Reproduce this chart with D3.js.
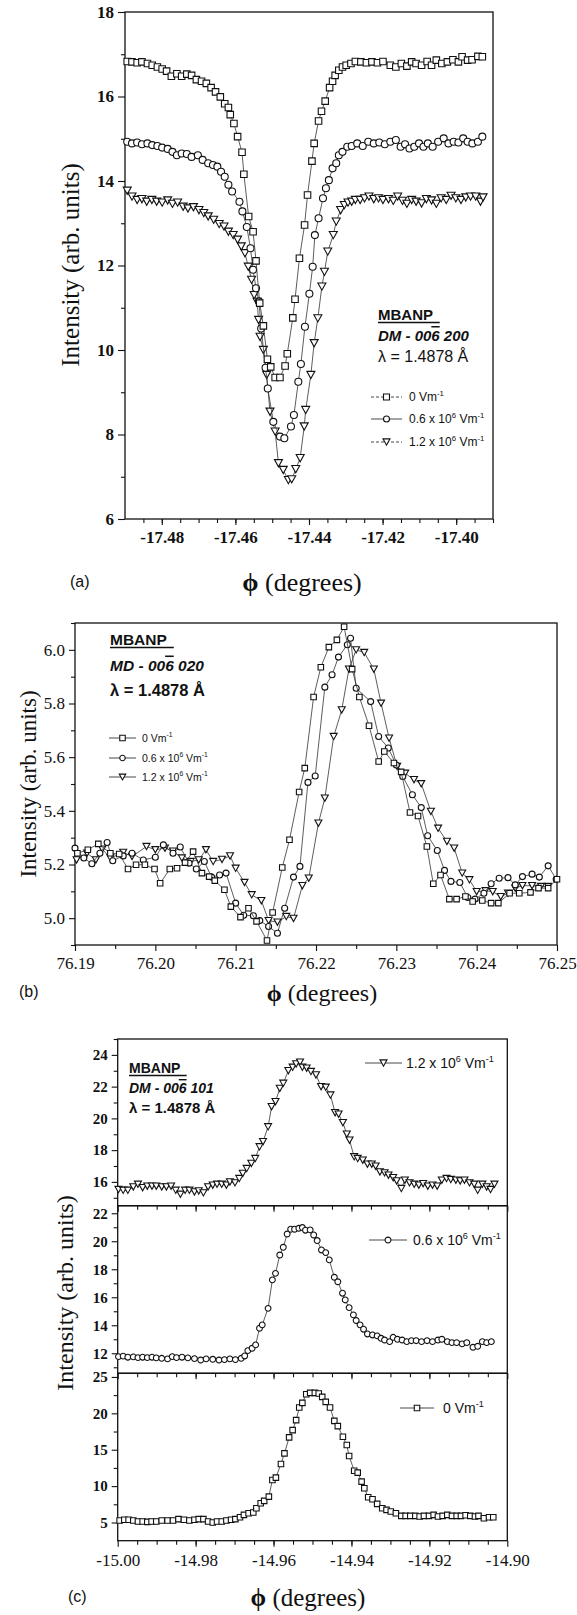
<!DOCTYPE html>
<html>
<head>
<meta charset="utf-8">
<script src="https://cdn.jsdelivr.net/npm/d3@7"></script>
<style>
  body { margin: 0; background: #fff; }
  svg { display: block; }
</style>
</head>
<body>
<div id="chart"></div>
<script>

// ---------- panel (a) : MBANP DM-006 200 ----------
const aZero = [[-17.4894,16.83],[-17.4881,16.82],[-17.4867,16.80],[-17.4854,16.82],[-17.4839,16.78],[-17.4826,16.74],[-17.4812,16.70],[-17.4799,16.65],[-17.4787,16.60],[-17.4774,16.48],[-17.4759,16.54],[-17.4746,16.48],[-17.4732,16.53],[-17.4719,16.50],[-17.4706,16.40],[-17.4692,16.36],[-17.4679,16.31],[-17.4666,16.21],[-17.4654,16.11],[-17.4641,15.99],[-17.4629,15.83],[-17.4619,15.74],[-17.4614,15.57],[-17.4604,15.36],[-17.4594,15.05],[-17.4582,14.68],[-17.4577,14.16],[-17.4564,13.16],[-17.4552,12.80],[-17.4544,12.11],[-17.4534,11.11],[-17.4524,10.57],[-17.4513,9.78],[-17.4504,9.60],[-17.4492,9.35],[-17.4479,9.35],[-17.4465,9.62],[-17.4459,9.91],[-17.4444,10.76],[-17.4438,11.20],[-17.4426,12.17],[-17.4412,12.96],[-17.4404,13.67],[-17.4392,14.47],[-17.4386,14.89],[-17.4374,15.42],[-17.4366,15.65],[-17.4356,15.89],[-17.4344,16.21],[-17.4336,16.36],[-17.4329,16.50],[-17.4319,16.62],[-17.4309,16.70],[-17.4299,16.74],[-17.4286,16.78],[-17.4274,16.83],[-17.4259,16.82],[-17.4244,16.80],[-17.4229,16.82],[-17.4214,16.80],[-17.4199,16.83],[-17.4179,16.74],[-17.4164,16.70],[-17.4149,16.78],[-17.4134,16.72],[-17.4121,16.82],[-17.4109,16.78],[-17.4094,16.74],[-17.4079,16.83],[-17.4067,16.74],[-17.4054,16.86],[-17.4039,16.78],[-17.4024,16.82],[-17.4009,16.87],[-17.3994,16.82],[-17.3984,16.94],[-17.3969,16.86],[-17.3957,16.87],[-17.3941,16.95],[-17.3929,16.94]];

const aMid = [[-17.4894,14.93],[-17.4881,14.89],[-17.4867,14.91],[-17.4854,14.87],[-17.4839,14.89],[-17.4826,14.85],[-17.4812,14.83],[-17.4799,14.79],[-17.4784,14.76],[-17.4771,14.69],[-17.4759,14.61],[-17.4746,14.65],[-17.4732,14.64],[-17.4719,14.57],[-17.4702,14.61],[-17.4689,14.50],[-17.4674,14.42],[-17.4661,14.38],[-17.4649,14.34],[-17.4639,14.22],[-17.4629,14.10],[-17.4619,13.91],[-17.4609,13.75],[-17.4589,13.51],[-17.4581,13.28],[-17.4569,12.91],[-17.4559,12.41],[-17.4552,11.90],[-17.4544,11.46],[-17.4536,11.15],[-17.4530,10.51],[-17.4518,9.58],[-17.4512,9.09],[-17.4497,8.30],[-17.4479,7.95],[-17.4467,7.91],[-17.4449,8.19],[-17.4441,8.46],[-17.4429,9.25],[-17.4422,9.67],[-17.4411,10.55],[-17.4399,11.33],[-17.4390,11.97],[-17.4384,12.72],[-17.4374,13.12],[-17.4362,13.59],[-17.4354,13.83],[-17.4346,14.02],[-17.4336,14.30],[-17.4326,14.42],[-17.4319,14.61],[-17.4309,14.69],[-17.4296,14.81],[-17.4284,14.83],[-17.4269,14.89],[-17.4254,14.83],[-17.4239,14.93],[-17.4224,14.89],[-17.4209,14.91],[-17.4194,14.87],[-17.4179,14.93],[-17.4164,14.97],[-17.4151,14.81],[-17.4139,14.87],[-17.4127,14.77],[-17.4114,14.81],[-17.4101,14.89],[-17.4089,14.81],[-17.4077,14.89],[-17.4064,14.81],[-17.4049,14.93],[-17.4034,15.01],[-17.4021,14.89],[-17.4007,14.93],[-17.3994,14.91],[-17.3981,15.01],[-17.3969,14.93],[-17.3956,14.89],[-17.3941,14.93],[-17.3929,15.05]];

const aHigh = [[-17.4894,13.77],[-17.4881,13.63],[-17.4867,13.55],[-17.4854,13.57],[-17.4841,13.51],[-17.4827,13.55],[-17.4814,13.51],[-17.4799,13.49],[-17.4784,13.54],[-17.4771,13.46],[-17.4757,13.49],[-17.4742,13.39],[-17.4729,13.35],[-17.4714,13.38],[-17.4699,13.31],[-17.4686,13.24],[-17.4674,13.16],[-17.4659,13.08],[-17.4644,12.98],[-17.4631,12.92],[-17.4619,12.80],[-17.4606,12.72],[-17.4594,12.61],[-17.4584,12.45],[-17.4574,12.29],[-17.4565,11.97],[-17.4556,11.66],[-17.4549,11.30],[-17.4541,11.14],[-17.4537,10.71],[-17.4533,10.31],[-17.4524,10.00],[-17.4515,9.41],[-17.4506,8.54],[-17.4492,8.07],[-17.4483,7.32],[-17.4470,7.16],[-17.4456,6.92],[-17.4447,6.94],[-17.4436,7.18],[-17.4424,7.44],[-17.4413,8.19],[-17.4409,8.58],[-17.4395,9.41],[-17.4386,10.16],[-17.4376,10.75],[-17.4365,11.50],[-17.4358,11.85],[-17.4349,12.33],[-17.4334,12.72],[-17.4326,13.04],[-17.4314,13.31],[-17.4304,13.43],[-17.4294,13.49],[-17.4284,13.51],[-17.4274,13.55],[-17.4261,13.55],[-17.4249,13.59],[-17.4237,13.63],[-17.4224,13.57],[-17.4211,13.59],[-17.4199,13.55],[-17.4184,13.57],[-17.4171,13.53],[-17.4159,13.63],[-17.4146,13.53],[-17.4134,13.46],[-17.4121,13.55],[-17.4109,13.51],[-17.4094,13.47],[-17.4081,13.57],[-17.4067,13.54],[-17.4054,13.46],[-17.4041,13.59],[-17.4027,13.55],[-17.4014,13.65],[-17.4001,13.59],[-17.3987,13.55],[-17.3974,13.61],[-17.3961,13.63],[-17.3947,13.63],[-17.3934,13.51],[-17.3927,13.61]];

const aXTicks = [-17.48, -17.46, -17.44, -17.42, -17.40];
const aYTicks = [6, 8, 10, 12, 14, 16, 18];

// ---------- panel (b) : MBANP MD-006 020 ----------
const bZero = [[76.1903,5.242],[76.1916,5.255],[76.1929,5.277],[76.1944,5.242],[76.1955,5.239],[76.1966,5.183],[76.1976,5.199],[76.1987,5.199],[76.1999,5.183],[76.2006,5.130],[76.2018,5.183],[76.2027,5.186],[76.2037,5.207],[76.2047,5.248],[76.2058,5.168],[76.2067,5.155],[76.2074,5.140],[76.2086,5.106],[76.2094,5.043],[76.2106,5.004],[76.2116,5.037],[76.2126,4.988],[76.2139,4.917],[76.2146,5.021],[76.2158,5.189],[76.2167,5.292],[76.2179,5.470],[76.2186,5.559],[76.2197,5.824],[76.2206,5.935],[76.2216,6.010],[76.2226,6.037],[76.2235,6.086],[76.2245,5.928],[76.2254,5.824],[76.2266,5.717],[76.2278,5.584],[76.2285,5.621],[76.2297,5.578],[76.2306,5.545],[76.2317,5.394],[76.2327,5.381],[76.2338,5.267],[76.2346,5.128],[76.2355,5.161],[76.2366,5.071],[76.2375,5.071],[76.2386,5.081],[76.2395,5.062],[76.2407,5.066],[76.2418,5.056],[76.2427,5.056],[76.2441,5.093],[76.2453,5.093],[76.2467,5.096],[76.2477,5.112],[76.2489,5.112],[76.2500,5.145]];

const bMid = [[76.1900,5.261],[76.1911,5.224],[76.1921,5.203],[76.1931,5.242],[76.1940,5.282],[76.1947,5.214],[76.1960,5.232],[76.1971,5.242],[76.1985,5.217],[76.2000,5.227],[76.2010,5.273],[76.2022,5.242],[76.2031,5.265],[76.2042,5.205],[76.2051,5.183],[76.2061,5.211],[76.2070,5.153],[76.2080,5.161],[76.2088,5.168],[76.2100,5.056],[76.2110,5.011],[76.2122,5.009],[76.2130,4.991],[76.2141,4.969],[76.2152,4.944],[76.2161,5.037],[76.2172,5.153],[76.2180,5.193],[76.2190,5.506],[76.2199,5.530],[76.2211,5.861],[76.2220,5.907],[76.2228,5.973],[76.2239,6.019],[76.2243,6.043],[76.2250,5.857],[76.2268,5.807],[76.2278,5.677],[76.2290,5.634],[76.2300,5.571],[76.2308,5.528],[76.2320,5.460],[76.2331,5.412],[76.2339,5.307],[76.2351,5.252],[76.2360,5.178],[76.2368,5.137],[76.2379,5.133],[76.2389,5.077],[76.2398,5.071],[76.2409,5.093],[76.2418,5.128],[76.2428,5.149],[76.2439,5.151],[76.2448,5.124],[76.2457,5.155],[76.2469,5.164],[76.2478,5.153],[76.2489,5.195],[76.2499,5.145]];

const bHigh = [[76.1902,5.217],[76.1915,5.242],[76.1926,5.217],[76.1934,5.257],[76.1944,5.224],[76.1960,5.245],[76.1971,5.230],[76.1989,5.267],[76.2000,5.255],[76.2012,5.261],[76.2022,5.250],[76.2033,5.224],[76.2044,5.211],[76.2054,5.217],[76.2063,5.255],[76.2072,5.211],[76.2083,5.219],[76.2093,5.232],[76.2100,5.186],[76.2111,5.133],[76.2120,5.087],[76.2132,5.065],[76.2141,4.991],[76.2152,4.985],[76.2163,5.006],[76.2172,4.999],[76.2183,5.121],[76.2191,5.149],[76.2203,5.354],[76.2211,5.447],[76.2222,5.677],[76.2232,5.776],[76.2241,5.928],[76.2250,6.000],[76.2260,5.990],[76.2272,5.928],[76.2281,5.801],[76.2291,5.671],[76.2301,5.565],[76.2311,5.540],[76.2322,5.516],[76.2331,5.501],[76.2343,5.398],[76.2352,5.335],[76.2363,5.286],[76.2372,5.261],[76.2382,5.168],[76.2391,5.143],[76.2400,5.099],[76.2411,5.102],[76.2420,5.099],[76.2430,5.080],[76.2439,5.093],[76.2448,5.112],[76.2457,5.121],[76.2469,5.121],[76.2480,5.118],[76.2489,5.118]];

const bXTicks = [76.19, 76.20, 76.21, 76.22, 76.23, 76.24, 76.25];
const bYTicks = [5.0, 5.2, 5.4, 5.6, 5.8, 6.0];

// ---------- panel (c) : MBANP DM-006 101, three stacked curves ----------
const cHigh = [[-14.9998,15.52],[-14.9986,15.47],[-14.9974,15.47],[-14.9960,15.68],[-14.9948,15.85],[-14.9936,15.64],[-14.9924,15.73],[-14.9912,15.73],[-14.9901,15.73],[-14.9887,15.68],[-14.9875,15.68],[-14.9863,15.73],[-14.9851,15.47],[-14.9839,15.22],[-14.9827,15.47],[-14.9816,15.47],[-14.9803,15.37],[-14.9792,15.43],[-14.9780,15.31],[-14.9768,15.68],[-14.9756,15.79],[-14.9745,15.85],[-14.9733,15.85],[-14.9721,15.79],[-14.9712,16.00],[-14.9699,15.94],[-14.9688,16.21],[-14.9679,16.53],[-14.9669,16.84],[-14.9657,17.16],[-14.9647,17.47],[-14.9636,18.21],[-14.9627,18.53],[-14.9614,19.47],[-14.9605,20.74],[-14.9595,21.05],[-14.9584,21.89],[-14.9575,22.21],[-14.9562,23.01],[-14.9551,23.22],[-14.9542,23.43],[-14.9532,23.54],[-14.9526,23.22],[-14.9515,23.16],[-14.9504,22.95],[-14.9491,22.74],[-14.9478,22.00],[-14.9466,21.96],[-14.9454,21.47],[-14.9442,20.36],[-14.9433,20.27],[-14.9422,19.73],[-14.9412,19.01],[-14.9405,18.63],[-14.9393,17.58],[-14.9384,17.47],[-14.9371,17.37],[-14.9359,17.12],[-14.9348,17.12],[-14.9338,16.99],[-14.9327,16.63],[-14.9315,16.57],[-14.9305,16.42],[-14.9293,16.27],[-14.9284,16.06],[-14.9272,15.58],[-14.9263,16.11],[-14.9251,15.94],[-14.9239,15.85],[-14.9227,15.79],[-14.9216,15.89],[-14.9204,15.73],[-14.9192,15.79],[-14.9180,15.73],[-14.9168,16.11],[-14.9156,16.21],[-14.9145,16.15],[-14.9132,16.11],[-14.9121,16.06],[-14.9110,16.11],[-14.9097,15.94],[-14.9085,15.85],[-14.9076,15.47],[-14.9064,15.85],[-14.9053,15.68],[-14.9043,15.52],[-14.9033,15.85]];

const cMid = [[-14.9998,11.76],[-14.9986,11.80],[-14.9974,11.72],[-14.9960,11.74],[-14.9948,11.69],[-14.9936,11.72],[-14.9924,11.69],[-14.9912,11.72],[-14.9901,11.67],[-14.9887,11.64],[-14.9872,11.60],[-14.9860,11.76],[-14.9849,11.69],[-14.9835,11.72],[-14.9820,11.67],[-14.9803,11.62],[-14.9787,11.52],[-14.9773,11.60],[-14.9756,11.57],[-14.9740,11.52],[-14.9726,11.55],[-14.9712,11.60],[-14.9698,11.55],[-14.9683,11.64],[-14.9674,11.81],[-14.9666,12.19],[-14.9655,12.36],[-14.9646,12.60],[-14.9636,13.79],[-14.9629,14.03],[-14.9614,15.21],[-14.9603,17.24],[-14.9595,17.71],[-14.9584,19.02],[-14.9575,19.57],[-14.9565,20.52],[-14.9556,20.86],[-14.9546,20.86],[-14.9535,20.93],[-14.9526,20.98],[-14.9518,20.79],[-14.9506,20.81],[-14.9497,20.45],[-14.9488,20.05],[-14.9477,19.38],[-14.9466,19.19],[-14.9457,18.67],[-14.9444,17.43],[-14.9435,17.11],[-14.9423,16.29],[-14.9416,15.81],[-14.9406,15.26],[-14.9395,14.74],[-14.9388,14.34],[-14.9378,14.03],[-14.9369,13.72],[-14.9359,13.38],[-14.9346,13.31],[-14.9334,13.24],[-14.9324,13.07],[-14.9315,12.95],[-14.9302,12.83],[-14.9293,13.14],[-14.9282,13.00],[-14.9270,12.95],[-14.9258,12.83],[-14.9246,12.90],[-14.9234,12.90],[-14.9220,12.83],[-14.9206,12.90],[-14.9192,12.83],[-14.9178,12.95],[-14.9168,13.00],[-14.9154,12.83],[-14.9142,12.76],[-14.9130,12.76],[-14.9116,12.67],[-14.9104,12.76],[-14.9088,12.43],[-14.9076,12.50],[-14.9064,12.83],[-14.9053,12.76],[-14.9041,12.83]];

const cZero = [[-14.9995,5.27],[-14.9983,5.37],[-14.9972,5.37],[-14.9960,5.27],[-14.9948,5.14],[-14.9936,5.14],[-14.9924,5.09],[-14.9913,5.14],[-14.9901,5.14],[-14.9887,5.27],[-14.9872,5.27],[-14.9858,5.27],[-14.9844,5.46],[-14.9830,5.37],[-14.9816,5.27],[-14.9803,5.37],[-14.9792,5.46],[-14.9780,5.46],[-14.9768,5.14],[-14.9756,5.00],[-14.9745,5.14],[-14.9733,5.14],[-14.9721,5.27],[-14.9709,5.37],[-14.9698,5.46],[-14.9686,5.73],[-14.9676,6.05],[-14.9664,6.28],[-14.9652,6.37],[-14.9644,6.96],[-14.9633,7.65],[-14.9624,7.97],[-14.9612,8.56],[-14.9603,10.84],[-14.9594,11.16],[-14.9581,13.04],[-14.9572,14.50],[-14.9560,16.69],[-14.9551,17.69],[-14.9542,19.06],[-14.9534,20.80],[-14.9526,21.44],[-14.9516,22.63],[-14.9506,22.81],[-14.9494,22.81],[-14.9484,22.72],[-14.9475,22.26],[-14.9466,21.58],[-14.9455,20.80],[-14.9444,18.97],[-14.9435,18.24],[-14.9422,16.78],[-14.9412,15.64],[-14.9406,14.13],[-14.9393,12.12],[-14.9384,11.85],[-14.9374,10.62],[-14.9367,9.70],[-14.9357,8.47],[-14.9346,8.20],[-14.9334,7.56],[-14.9321,6.96],[-14.9310,6.74],[-14.9299,6.51],[-14.9286,6.28],[-14.9272,5.91],[-14.9261,5.91],[-14.9249,5.91],[-14.9236,5.91],[-14.9225,5.82],[-14.9214,5.91],[-14.9201,5.91],[-14.9189,6.05],[-14.9178,5.82],[-14.9166,5.91],[-14.9154,6.05],[-14.9142,5.91],[-14.9130,5.91],[-14.9119,5.91],[-14.9107,6.00],[-14.9095,5.91],[-14.9083,5.82],[-14.9074,5.91],[-14.9060,5.59],[-14.9047,5.73],[-14.9036,5.73]];

const cXTicks = [-15.00, -14.98, -14.96, -14.94, -14.92, -14.90];
const cTopYTicks = [16, 18, 20, 22, 24];
const cMidYTicks = [12, 14, 16, 18, 20, 22];
const cLowYTicks = [5, 10, 15, 20, 25];

// legend labels: [main, sup, main, sup]
const fieldLabels = {
  zero: ['0 Vm', '-1'],
  mid:  ['0.6 x 10', '6', ' Vm', '-1'],
  high: ['1.2 x 10', '6', ' Vm', '-1']
};

const serif = '"Liberation Serif", "Times New Roman", serif';
const sans = '"Liberation Sans", Arial, sans-serif';
const ink = '#111';

const svg = d3.select('#chart').append('svg')
    .attr('width', 577)
    .attr('height', 1615)
    .style('background', '#fff');

function shape(kind, s) {
    if (kind === 'square') return `M${-s/2},${-s/2}h${s}v${s}h${-s}Z`;
    if (kind === 'circle') {
        const r = s / 2;
        return `M${r},0A${r},${r} 0 1,1 ${-r},0A${r},${r} 0 1,1 ${r},0Z`;
    }
    const h = s * 0.9;
    return `M${-s/2},${-h/2}L${s/2},${-h/2}L0,${h/2}Z`;
}

function drawSeries(g, data, x, y, kind, size) {
    const line = d3.line().x(d => x(d[0])).y(d => y(d[1]));
    g.append('path')
        .datum(data)
        .attr('fill', 'none')
        .attr('stroke', '#333')
        .attr('stroke-width', 0.8)
        .attr('d', line);
    g.selectAll(null)
        .data(data)
        .enter().append('path')
        .attr('transform', d => `translate(${x(d[0])},${y(d[1])})`)
        .attr('d', shape(kind, size))
        .attr('fill', '#fff')
        .attr('stroke', ink)
        .attr('stroke-width', 1.1);
}

// one axis = minor ticks + labelled major ticks
function axis(g, fn, scale, major, minor, fmt, opt) {
    const tr = opt.transform || null;
    const gm = g.append('g').attr('transform', tr)
        .call(fn(scale).tickValues(minor).tickSize(opt.minLen).tickSizeOuter(0).tickFormat(''));
    const gM = g.append('g').attr('transform', tr)
        .call(fn(scale).tickValues(major).tickSize(opt.majLen).tickSizeOuter(0)
            .tickPadding(opt.pad || 3).tickFormat(fmt));
    [gm, gM].forEach(a => {
        a.attr('font-family', null);
        a.select('.domain').remove();
        a.selectAll('line').attr('stroke', ink).attr('stroke-width', 1.1);
    });
    gM.selectAll('text')
        .attr('fill', ink)
        .style('font-family', serif)
        .style('font-size', opt.fontSize + 'px')
        .style('font-weight', opt.weight || 'normal');
    return gM;
}

function frame(g, x0, y0, x1, y1) {
    g.append('rect')
        .attr('x', x0).attr('y', y0)
        .attr('width', x1 - x0).attr('height', y1 - y0)
        .attr('fill', 'none')
        .attr('stroke', ink)
        .attr('stroke-width', 1.3);
}

function supText(g, x, y, parts, size, weight) {
    const t = g.append('text')
        .attr('x', x).attr('y', y)
        .style('font-family', sans)
        .style('font-size', size + 'px')
        .style('font-weight', weight || 'normal')
        .attr('fill', ink);
    let up = false;
    parts.forEach((p, i) => {
        const isSup = i % 2 === 1;
        const ts = t.append('tspan').text(p);
        if (isSup) {
            ts.attr('dy', -size * 0.42).style('font-size', (size * 0.65) + 'px');
            up = true;
        } else if (up) {
            ts.attr('dy', size * 0.42);
            up = false;
        }
    });
}

function legendItem(g, x0, x1, y, kind, size, parts, fontSize, textX, dash) {
    g.append('line')
        .attr('x1', x0).attr('x2', x1).attr('y1', y).attr('y2', y)
        .attr('stroke', '#333').attr('stroke-width', 0.9)
        .attr('stroke-dasharray', dash || null);
    g.append('path')
        .attr('transform', `translate(${(x0 + x1) / 2},${y})`)
        .attr('d', shape(kind, size))
        .attr('fill', '#fff').attr('stroke', ink).attr('stroke-width', 1.1);
    supText(g, textX, y + fontSize * 0.36, parts, fontSize);
}

function sampleNote(g, x, y, size, code, lambdaWeight, gap) {
    const t1 = g.append('text').attr('x', x).attr('y', y)
        .style('font-family', sans).style('font-size', size + 'px').style('font-weight', 'bold')
        .attr('fill', ink).text('MBANP');
    const w = t1.node().getComputedTextLength();
    g.append('line').attr('x1', x).attr('x2', x + w + size * 0.45)
        .attr('y1', y + 2.5).attr('y2', y + 2.5).attr('stroke', ink).attr('stroke-width', 1.4);
    const t2 = g.append('text').attr('x', x).attr('y', y + gap)
        .style('font-family', sans).style('font-size', size + 'px')
        .style('font-weight', 'bold').style('font-style', 'italic').attr('fill', ink);
    t2.append('tspan').text(code[0]);
    t2.append('tspan').text('6').style('text-decoration', 'overline');
    t2.append('tspan').text(code[1]);
    g.append('text').attr('x', x).attr('y', y + gap * 2)
        .style('font-family', sans).style('font-size', (size + 1) + 'px')
        .style('font-weight', lambdaWeight).attr('fill', ink)
        .text('\u03bb = 1.4878 \u00c5');
}

function yLabel(g, cx, cy, size) {
    g.append('text')
        .attr('transform', `translate(${cx},${cy}) rotate(-90)`)
        .attr('text-anchor', 'middle')
        .attr('dy', '0.35em')
        .style('font-family', serif).style('font-size', size + 'px')
        .attr('fill', ink)
        .text('Intensity (arb. units)');
}

function xLabel(g, cx, y, size, tag, tagX) {
    const t = g.append('text').attr('x', cx).attr('y', y)
        .attr('text-anchor', 'middle')
        .style('font-family', serif).style('font-size', size + 'px').attr('fill', ink);
    t.append('tspan').text('\u03d5').style('font-weight', 'bold');
    t.append('tspan').text(' (degrees)');
    g.append('text').attr('x', tagX).attr('y', y - 4)
        .style('font-family', sans).style('font-size', '16px').attr('fill', ink)
        .text(tag);
}

const f2 = d => d.toFixed(2);
const f1 = d => d.toFixed(1);
const f0 = d => d.toFixed(0);

// ================= panel (a) =================
{
    const g = svg.append('g');
    const x = d3.scaleLinear().domain([-17.49, -17.39]).range([125, 493]);
    const y = d3.scaleLinear().domain([6, 18]).range([519, 12]);

    axis(g, d3.axisBottom, x, aXTicks, d3.range(-17.485, -17.3899, 0.005), f2,
        { transform: 'translate(0,519)', majLen: 6, minLen: 4, fontSize: 17, weight: 'bold', pad: 6 });
    axis(g, d3.axisLeft, y, aYTicks, d3.range(7, 18, 2), f0,
        { transform: 'translate(125,0)', majLen: 7, minLen: 4, fontSize: 17, weight: 'bold', pad: 4 });
    frame(g, 125, 12, 493, 519);

    drawSeries(g, aHigh, x, y, 'triangle', 8);
    drawSeries(g, aMid, x, y, 'circle', 7);
    drawSeries(g, aZero, x, y, 'square', 6.5);

    sampleNote(g, 378, 320, 15, ['DM - 00', ' 200'], 'normal', 21);
    legendItem(g, 371, 402, 397, 'square', 6, fieldLabels.zero, 12, 409, '3,2');
    legendItem(g, 371, 402, 419, 'circle', 6, fieldLabels.mid, 12, 409);
    legendItem(g, 371, 402, 442, 'triangle', 7, fieldLabels.high, 12, 409, '3,2');

    yLabel(g, 70, 265, 25);
    xLabel(g, 302, 591, 26, '(a)', 70);
}

// ================= panel (b) =================
{
    const g = svg.append('g');
    const x = d3.scaleLinear().domain([76.19, 76.25]).range([75, 557]);
    const y = d3.scaleLinear().domain([4.9, 6.1]).range([945, 623]);

    axis(g, d3.axisBottom, x, bXTicks, d3.range(76.195, 76.25, 0.01), f2,
        { transform: 'translate(0,945)', majLen: 6, minLen: 4, fontSize: 17, pad: 6 });
    axis(g, d3.axisLeft, y, bYTicks, [4.9, 5.1, 5.3, 5.5, 5.7, 5.9, 6.1], f1,
        { transform: 'translate(75,0)', majLen: 6, minLen: 4, fontSize: 17, pad: 4 });
    frame(g, 75, 623, 557, 945);

    drawSeries(g, bHigh, x, y, 'triangle', 7);
    drawSeries(g, bMid, x, y, 'circle', 6);
    drawSeries(g, bZero, x, y, 'square', 5.5);

    sampleNote(g, 110, 645, 15.5, ['MD - 00', ' 020'], 'bold', 25.5);
    legendItem(g, 109, 136, 738, 'square', 5.5, fieldLabels.zero, 10.5, 142);
    legendItem(g, 109, 136, 758, 'circle', 5.5, fieldLabels.mid, 10.5, 142);
    legendItem(g, 109, 136, 777, 'triangle', 6.5, fieldLabels.high, 10.5, 142);

    yLabel(g, 28, 784, 23);
    xLabel(g, 322, 1001, 24, '(b)', 19);
}

// ================= panel (c) =================
{
    const g = svg.append('g');
    const x = d3.scaleLinear().domain([-15.0, -14.9]).range([117.7, 507.3]);
    const yTop = d3.scaleLinear().domain([14.5, 25.0]).range([1205.7, 1039]);
    const yMid = d3.scaleLinear().domain([10.57, 22.54]).range([1373.3, 1205.7]);
    const yLow = d3.scaleLinear().domain([2.5, 25.5]).range([1540.7, 1373.3]);
    const xMinor = d3.range(-14.995, -14.9, 0.005);
    const cOpt = { majLen: 6, minLen: 4, fontSize: 15, weight: 'bold', pad: 4 };

    // tick rows under each sub-panel, labels only on the bottom one
    axis(g, d3.axisBottom, x, cXTicks, xMinor, () => '', Object.assign({}, cOpt, { transform: 'translate(0,1205.7)' }));
    axis(g, d3.axisBottom, x, cXTicks, xMinor, () => '', Object.assign({}, cOpt, { transform: 'translate(0,1373.3)' }));
    axis(g, d3.axisBottom, x, cXTicks, xMinor, f2, Object.assign({}, cOpt, { transform: 'translate(0,1540.7)', fontSize: 17, weight: 'normal', pad: 7 }));

    axis(g, d3.axisLeft, yTop, cTopYTicks, [15, 17, 19, 21, 23, 25], f0, Object.assign({}, cOpt, { transform: 'translate(117.7,0)' }));
    axis(g, d3.axisLeft, yMid, cMidYTicks, [11, 13, 15, 17, 19, 21], f0, Object.assign({}, cOpt, { transform: 'translate(117.7,0)' }));
    axis(g, d3.axisLeft, yLow, cLowYTicks, [7.5, 12.5, 17.5, 22.5], f0, Object.assign({}, cOpt, { transform: 'translate(117.7,0)' }));

    frame(g, 117.7, 1039, 507.3, 1205.7);
    frame(g, 117.7, 1205.7, 507.3, 1373.3);
    frame(g, 117.7, 1373.3, 507.3, 1540.7);

    drawSeries(g, cHigh, x, yTop, 'triangle', 7);
    drawSeries(g, cMid, x, yMid, 'circle', 5.8);
    drawSeries(g, cZero, x, yLow, 'square', 5.5);

    sampleNote(g, 129, 1073, 14, ['DM - 00', ' 101'], 'bold', 20);
    legendItem(g, 365, 402, 1063, 'triangle', 7, fieldLabels.high, 14, 406);
    legendItem(g, 369, 407, 1240, 'circle', 5.8, fieldLabels.mid, 14, 413);
    legendItem(g, 400, 434, 1408, 'square', 5.5, fieldLabels.zero, 14, 443);

    yLabel(g, 65, 1293, 24);
    xLabel(g, 308, 1606, 25, '(c)', 68);
}
</script>
</body>
</html>
